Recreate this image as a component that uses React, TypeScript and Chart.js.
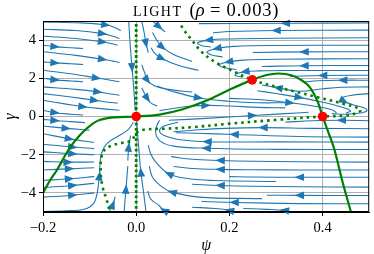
import React, { useEffect, useRef } from "react";
import { Chart, registerables } from "chart.js";

Chart.register(...registerables);

// ---------- data (ψ, γ) ----------
const X_TICKS = [-0.2, 0.0, 0.2, 0.4];
const Y_TICKS = [-4, -2, 0, 2, 4];
const TITLE_CAPS = "LIGHT";
const TITLE_PAREN_OPEN = "(";
const TITLE_RHO = "ρ";
const TITLE_REST = " = 0.003)";
const X_LABEL = "ψ";
const Y_LABEL = "γ";

const FIXED_POINTS: [number, number][] = [
  [0, 0],
  [0.249, 1.92],
  [0.4, 0],
];

const SOLID_NULLCLINE: [number, number][] = [
  [-0.2, -4.0], [-0.185, -3.35], [-0.17, -2.8], [-0.155, -2.15], [-0.14, -1.55],
  [-0.12, -0.95], [-0.1, -0.5], [-0.08, -0.2], [-0.05, -0.05], [0, 0],
  [0.05, 0.1], [0.1, 0.38], [0.15, 0.82], [0.2, 1.4], [0.25, 1.93],
  [0.28, 2.17], [0.305, 2.25], [0.333, 2.16], [0.355, 1.9], [0.372, 1.55],
  [0.389, 0.8], [0.4, 0], [0.412, -0.8], [0.425, -1.7], [0.443, -3.44], [0.462, -5.1],
];

const DOTTED_NULLCLINE: [number, number][] = [
  [0.093, 5.1], [0.0985, 4.68], [0.12, 3.98], [0.141, 3.37], [0.17, 2.84],
  [0.205, 2.41], [0.249, 1.92], [0.304, 1.53], [0.347, 1.27], [0.389, 1.01],
  [0.446, 0.66], [0.473, 0.47], [0.482, 0.33], [0.47, 0.16], [0.45, 0.05],
  [0.4, 0.0], [0.304, -0.17], [0.198, -0.38], [0.12, -0.56], [0.06, -0.64],
  [0.02, -0.68], [0.003, -0.8], [-0.004, -1.05], [-0.012, -1.28], [-0.03, -1.38],
  [-0.05, -1.5], [-0.068, -1.75], [-0.075, -2.2], [-0.076, -3.0], [-0.072, -3.7],
  [-0.064, -4.31], [-0.057, -4.95], [-0.055, -5.1],
];

const PSI_ZERO_NULLCLINE: [number, number][] = [
  [0, -5.1], [0, 5.1],
];

// streamlines, in flow order
const STREAMLINES: [number, number][][] = [
  // upper-left, flowing right
  [[-0.2, 4.95], [-0.12, 4.9], [-0.065, 4.8], [-0.045, 4.65], [-0.033, 4.5]],
  [[-0.2, 4.57], [-0.13, 4.5], [-0.072, 4.34], [-0.05, 4.2], [-0.036, 4.08]],
  [[-0.2, 4.2], [-0.13, 4.08], [-0.072, 3.91], [-0.05, 3.8], [-0.04, 3.73]],
  [[-0.2, 3.73], [-0.174, 3.66], [-0.14, 3.6], [-0.114, 3.56]],
  [[-0.2, 3.39], [-0.13, 3.2], [-0.072, 3.0], [-0.05, 2.9], [-0.036, 2.83]],
  [[-0.2, 2.86], [-0.174, 2.81], [-0.14, 2.76], [-0.114, 2.72]],
  [[-0.2, 2.42], [-0.13, 2.2], [-0.085, 2.02], [-0.055, 1.9], [-0.036, 1.82]],
  [[-0.2, 2.0], [-0.174, 1.92], [-0.14, 1.86], [-0.114, 1.82]],
  [[-0.2, 1.55], [-0.13, 1.42], [-0.082, 1.29], [-0.055, 1.18], [-0.036, 1.12]],
  [[-0.2, 1.2], [-0.14, 1.02], [-0.089, 0.85], [-0.06, 0.75], [-0.04, 0.7]],
  [[-0.2, 0.85], [-0.15, 0.65], [-0.114, 0.51], [-0.07, 0.4], [-0.036, 0.33]],
  [[-0.2, 0.33], [-0.174, 0.2], [-0.14, 0.12], [-0.114, 0.08]],
  // lower-left, flowing right
  [[-0.2, -0.15], [-0.174, -0.21], [-0.14, -0.27], [-0.11, -0.32]],
  [[-0.2, -0.5], [-0.15, -0.62], [-0.1, -0.72]],
  [[-0.2, -0.9], [-0.143, -1.17], [-0.11, -1.3], [-0.09, -1.35]],
  [[-0.2, -1.45], [-0.136, -1.6], [-0.09, -1.68]],
  [[-0.2, -1.85], [-0.136, -1.95], [-0.09, -2.0]],
  [[-0.2, -2.35], [-0.146, -2.39], [-0.09, -2.38]],
  [[-0.2, -2.8], [-0.143, -2.74], [-0.09, -2.68]],
  [[-0.2, -3.35], [-0.143, -3.26], [-0.09, -3.15]],
  [[-0.2, -3.72], [-0.136, -3.61], [-0.09, -3.5]],
  [[-0.2, -4.22], [-0.136, -4.12], [-0.09, -4.0]],
  // big curve left of the dotted branch, up into the origin
  [[-0.2, -4.97], [-0.14, -4.93], [-0.105, -4.8], [-0.088, -4.4], [-0.079, -3.1],
   [-0.078, -2.6], [-0.074, -1.9], [-0.062, -1.4], [-0.04, -1.05], [-0.018, -0.7], [-0.006, -0.3]],
  // near psi = 0
  [[-0.016, 4.98], [-0.013, 3.8], [-0.009, 2.55], [-0.005, 1.4], [-0.002, 0.3]],
  [[0.012, 4.98], [0.017, 4.4], [0.021, 3.82], [0.026, 3.35]],
  [[0.021, -5.0], [0.016, -4.0], [0.01, -2.9], [0.006, -1.8], [0.003, -0.9], [0.001, -0.25]],
  [[-0.018, -2.3], [-0.016, -1.6], [-0.012, -1.0]],
  [[-0.026, -5.0], [-0.022, -3.8], [-0.018, -2.6]],
  [[-0.058, -5.0], [-0.05, -4.6], [-0.045, -4.2]],
  // right of psi = 0, upper, flowing down-right
  [[0.036, 4.98], [0.049, 4.7], [0.062, 4.43]],
  [[0.035, 4.4], [0.044, 4.0], [0.056, 3.63], [0.08, 3.25], [0.12, 2.88]],
  [[0.032, 3.6], [0.04, 3.3], [0.055, 3.04], [0.09, 2.68], [0.134, 2.42]],
  [[0.012, 2.7], [0.018, 2.3], [0.024, 1.9], [0.04, 1.6], [0.07, 1.42], [0.12, 1.28]],
  [[0.012, 1.5], [0.018, 1.2], [0.024, 0.94], [0.032, 0.7], [0.045, 0.55]],
  // middle band
  [[0.045, 1.6], [0.08, 1.3], [0.134, 0.98], [0.198, 0.8], [0.26, 0.72], [0.32, 0.72]],
  [[0.05, 0.3], [0.1, 0.5], [0.15, 0.58], [0.2, 0.55], [0.26, 0.48], [0.32, 0.45]],
  [[0.07, -0.2], [0.15, -0.1], [0.25, 0.05], [0.32, 0.15], [0.37, 0.22]],
  [[0.26, 1.35], [0.3, 1.2], [0.35, 1.0], [0.4, 0.75], [0.44, 0.5], [0.46, 0.3], [0.45, 0.18]],
  [[0.2, 0.95], [0.27, 0.88], [0.33, 0.72], [0.38, 0.55], [0.42, 0.35], [0.43, 0.2]],
  // upper-right, flowing left (hooks at the dotted branch)
  [[0.5, 4.9], [0.32, 4.88], [0.134, 4.86]],
  [[0.5, 4.52], [0.3, 4.5], [0.2, 4.45], [0.165, 4.38]],
  [[0.5, 4.12], [0.3, 4.1], [0.2, 4.06], [0.155, 4.0], [0.132, 3.86], [0.14, 3.72], [0.16, 3.64]],
  [[0.5, 3.73], [0.3, 3.72], [0.21, 3.67], [0.173, 3.56], [0.152, 3.38], [0.162, 3.22], [0.185, 3.12]],
  [[0.5, 3.39], [0.36, 3.385], [0.25, 3.35]],
  [[0.5, 3.02], [0.3, 3.0], [0.23, 2.95], [0.198, 2.86], [0.178, 2.7], [0.19, 2.55], [0.215, 2.46]],
  [[0.5, 2.67], [0.36, 2.66], [0.27, 2.62]],
  [[0.5, 2.41], [0.33, 2.41], [0.265, 2.39], [0.233, 2.34], [0.212, 2.18], [0.228, 2.05]],
  [[0.5, 2.16], [0.4, 2.15], [0.33, 2.1]],
  [[0.5, 1.9], [0.443, 1.9], [0.39, 1.87], [0.36, 1.8]],
  [[0.5, 1.55], [0.44, 1.53], [0.4, 1.45], [0.35, 1.32], [0.304, 1.5], [0.27, 1.65]],
  // loop round the nose
  [[0.5, 1.2], [0.46, 1.1], [0.44, 0.95], [0.446, 0.8], [0.465, 0.62], [0.49, 0.45],
   [0.495, 0.3], [0.48, 0.18], [0.45, 0.12], [0.42, 0.15]],
  // lower-right, flowing left
  [[0.5, -0.22], [0.44, -0.2], [0.38, -0.22], [0.32, -0.3]],
  [[0.5, -0.64], [0.38, -0.62], [0.272, -0.58], [0.19, -0.62], [0.12, -0.72], [0.08, -0.8]],
  [[0.5, -1.08], [0.35, -1.05], [0.21, -0.94], [0.13, -0.88], [0.085, -0.85]],
  [[0.5, -1.34], [0.3, -1.33], [0.152, -1.32], [0.09, -1.2], [0.06, -1.0], [0.05, -0.75], [0.06, -0.5], [0.09, -0.3]],
  [[0.5, -1.73], [0.3, -1.72], [0.15, -1.66], [0.08, -1.55], [0.052, -1.3], [0.042, -0.9], [0.044, -0.5], [0.05, -0.2]],
  [[0.5, -2.39], [0.35, -2.37], [0.25, -2.34], [0.18, -2.3], [0.12, -2.24], [0.075, -2.1]],
  [[0.5, -2.8], [0.35, -2.8], [0.25, -2.79], [0.18, -2.77], [0.12, -2.72], [0.08, -2.62]],
  [[0.5, -3.18], [0.35, -3.18], [0.25, -3.17], [0.2, -3.15]],
  [[0.3, -3.4], [0.17, -3.35], [0.113, -3.26], [0.07, -3.0], [0.042, -2.39], [0.031, -1.95], [0.026, -1.5]],
  [[0.5, -3.7], [0.35, -3.68], [0.25, -3.65], [0.18, -3.61], [0.12, -3.55]],
  [[0.5, -4.14], [0.35, -4.13], [0.28, -4.12]],
  [[0.27, -4.3], [0.134, -4.22], [0.077, -3.96], [0.056, -3.7], [0.035, -3.18], [0.028, -2.6]],
  [[0.5, -4.57], [0.35, -4.56], [0.21, -4.5], [0.14, -4.45]],
  [[0.075, -5.0], [0.06, -4.92], [0.049, -4.66], [0.031, -4.31], [0.025, -3.9]],
  [[0.205, -5.0], [0.2, -4.92], [0.17, -4.82], [0.12, -4.75]],
  [[0.325, -5.0], [0.318, -4.92], [0.28, -4.86], [0.23, -4.82]],
];

// index of the point of each streamline that carries its arrow head
const ARROW_INDEX: number[] = [
  2, 2, 2, 1, 2, 1, 2, 1, 2, 2, 2, 1,
  1, 1, 1, 1, 1, 1, 1, 1, 1, 1,
  4,
  2, 2, 2, 1, 1, 1,
  1, 2, 2, 2, 2,
  2, 2, 2, 2, 2,
  1, 1, 3, 3, 1, 3, 1, 3, 1, 1, 4,
  3,
  1, 2, 2, 2, 2, 3, 3, 1, 3, 3, 1, 2, 2, 1, 1, 1,
];

// ---------- styles ----------
const BLUE = "#1f77b4";
const GREEN = "#008000";
const SERIF = "'Liberation Serif', 'DejaVu Serif', serif";

const toXY = (pts: [number, number][]) => pts.map(([x, y]) => ({ x, y }));

const arrowPlugin = {
  id: "streamArrows",
  afterDatasetDraw(chart: any, args: any) {
    const ds = chart.data.datasets[args.index];
    if (ds.arrowAt == null) return;
    const pts = args.meta.data;
    const i = ds.arrowAt;
    const p = pts[i];
    const a = pts[Math.max(0, i - 1)];
    const b = pts[Math.min(pts.length - 1, i + 1)];
    let dx = b.x - a.x;
    let dy = b.y - a.y;
    const L = Math.hypot(dx, dy) || 1;
    dx /= L;
    dy /= L;
    const len = 9.5;
    const hw = 3.8;
    const ctx = chart.ctx;
    const tx = p.x + dx * len * 0.5;
    const ty = p.y + dy * len * 0.5;
    const bx = p.x - dx * len * 0.5;
    const by = p.y - dy * len * 0.5;
    ctx.save();
    ctx.fillStyle = BLUE;
    ctx.beginPath();
    ctx.moveTo(tx, ty);
    ctx.lineTo(bx - dy * hw, by + dx * hw);
    ctx.lineTo(bx + dy * hw, by - dx * hw);
    ctx.closePath();
    ctx.fill();
    ctx.restore();
  },
};

const framePlugin = {
  id: "frameAndTitle",
  afterDraw(chart: any) {
    const ctx = chart.ctx;
    const { left, right, top, bottom } = chart.chartArea;
    ctx.save();
    ctx.strokeStyle = "#000";
    ctx.lineWidth = 1;
    ctx.strokeRect(left + 0.5, top + 0.5, right - left - 1, bottom - top - 1);

    // title
    ctx.fillStyle = "#000";
    ctx.textBaseline = "alphabetic";
    const capsFont = `14px ${SERIF}`;
    const bigFont = `18.5px ${SERIF}`;
    const itFont = `italic 18.5px ${SERIF}`;
    ctx.font = capsFont;
    (ctx as any).letterSpacing = "1.5px";
    const w1 = ctx.measureText(TITLE_CAPS).width;
    (ctx as any).letterSpacing = "0px";
    ctx.font = bigFont;
    const w2 = ctx.measureText(TITLE_PAREN_OPEN).width;
    ctx.font = itFont;
    const w3 = ctx.measureText(TITLE_RHO).width;
    ctx.font = bigFont;
    (ctx as any).letterSpacing = "0.8px";
    const w4 = ctx.measureText(TITLE_REST).width;
    (ctx as any).letterSpacing = "0px";
    const gap = 7;
    const total = w1 + gap + w2 + w3 + w4;
    let x = (left + right) / 2 - total / 2;
    const base = 16;
    ctx.font = capsFont;
    (ctx as any).letterSpacing = "1.5px";
    ctx.fillText(TITLE_CAPS, x, base - 0.5);
    (ctx as any).letterSpacing = "0px";
    x += w1 + gap;
    ctx.font = bigFont;
    ctx.fillText(TITLE_PAREN_OPEN, x, base);
    x += w2;
    ctx.font = itFont;
    ctx.fillText(TITLE_RHO, x, base);
    x += w3;
    ctx.font = bigFont;
    (ctx as any).letterSpacing = "0.8px";
    ctx.fillText(TITLE_REST, x, base);
    (ctx as any).letterSpacing = "0px";
    ctx.restore();
  },
};

const fmt = (v: number, digits: number) => {
  const s = v.toFixed(digits);
  return s.startsWith("-") ? "\u2212" + s.slice(1) : s;
};

export default function App() {
  const ref = useRef<HTMLCanvasElement | null>(null);

  useEffect(() => {
    if (!ref.current) return;
    const datasets: any[] = [];

    datasets.push({
      label: "fixed points",
      data: toXY(FIXED_POINTS),
      showLine: false,
      pointRadius: 4.8,
      pointBackgroundColor: "#ff0000",
      pointBorderWidth: 0,
      order: 0,
    });
    datasets.push({
      label: "gamma nullcline",
      data: toXY(SOLID_NULLCLINE),
      showLine: true,
      borderColor: GREEN,
      borderWidth: 2.2,
      pointRadius: 0,
      tension: 0.35,
      order: 1,
    });
    datasets.push({
      label: "psi nullcline",
      data: toXY(DOTTED_NULLCLINE),
      showLine: true,
      borderColor: GREEN,
      borderWidth: 2.6,
      borderDash: [2.6, 4.0],
      pointRadius: 0,
      tension: 0.35,
      order: 1,
    });
    datasets.push({
      label: "psi = 0",
      data: toXY(PSI_ZERO_NULLCLINE),
      showLine: true,
      borderColor: GREEN,
      borderWidth: 2.8,
      borderDash: [2.8, 2.4],
      pointRadius: 0,
      order: 1,
    });
    STREAMLINES.forEach((line, k) => {
      datasets.push({
        label: "stream " + k,
        data: toXY(line),
        showLine: true,
        borderColor: BLUE,
        borderWidth: 1.1,
        pointRadius: 0,
        tension: 0.4,
        arrowAt: Math.min(ARROW_INDEX[k] ?? 1, line.length - 1),
        order: 2,
      });
    });

    const chart = new Chart(ref.current, {
      type: "scatter",
      data: { datasets },
      options: {
        animation: false,
        responsive: false,
        events: [],
        layout: { padding: { top: 21, right: 2, left: 0, bottom: 0 } },
        plugins: {
          legend: { display: false },
          tooltip: { enabled: false },
          title: { display: false },
        },
        scales: {
          x: {
            type: "linear",
            min: -0.2,
            max: 0.5,
            afterBuildTicks: (s: any) => {
              s.ticks = X_TICKS.map((value) => ({ value }));
            },
            afterFit: (s: any) => {
              s.height = 42;
            },
            ticks: {
              color: "#000",
              font: { family: SERIF, size: 14.5 },
              padding: 3,
              maxRotation: 0,
              callback: (v: any) => fmt(Number(v), 1),
            },
            grid: {
              color: "#b0b0b0",
              lineWidth: 1,
              tickLength: 4,
              tickColor: "#000",
            },
            border: { color: "#000", width: 1 },
            title: {
              display: true,
              text: X_LABEL,
              color: "#000",
              font: { family: SERIF, size: 16, style: "italic", lineHeight: 1 },
              padding: { top: 0, bottom: 0 },
            },
          },
          y: {
            type: "linear",
            min: -5,
            max: 5,
            afterBuildTicks: (s: any) => {
              s.ticks = Y_TICKS.map((value) => ({ value }));
            },
            afterFit: (s: any) => {
              s.width = 43;
            },
            ticks: {
              color: "#000",
              font: { family: SERIF, size: 14.5 },
              padding: 3,
              callback: (v: any) => fmt(Number(v), 0),
            },
            grid: {
              color: "#b0b0b0",
              lineWidth: 1,
              tickLength: 4,
              tickColor: "#000",
            },
            border: { color: "#000", width: 1 },
            title: {
              display: true,
              text: Y_LABEL,
              color: "#000",
              font: { family: SERIF, size: 16, style: "italic" },
              padding: { top: 1, bottom: 0 },
            },
          },
        },
      },
      plugins: [arrowPlugin, framePlugin],
    });
    return () => chart.destroy();
  }, []);

  return (
    <div style={{ position: "fixed", left: 0, top: 0, width: 374, height: 254, background: "#fff" }}>
      <canvas ref={ref} width={374} height={254} style={{ display: "block" }} />
    </div>
  );
}
